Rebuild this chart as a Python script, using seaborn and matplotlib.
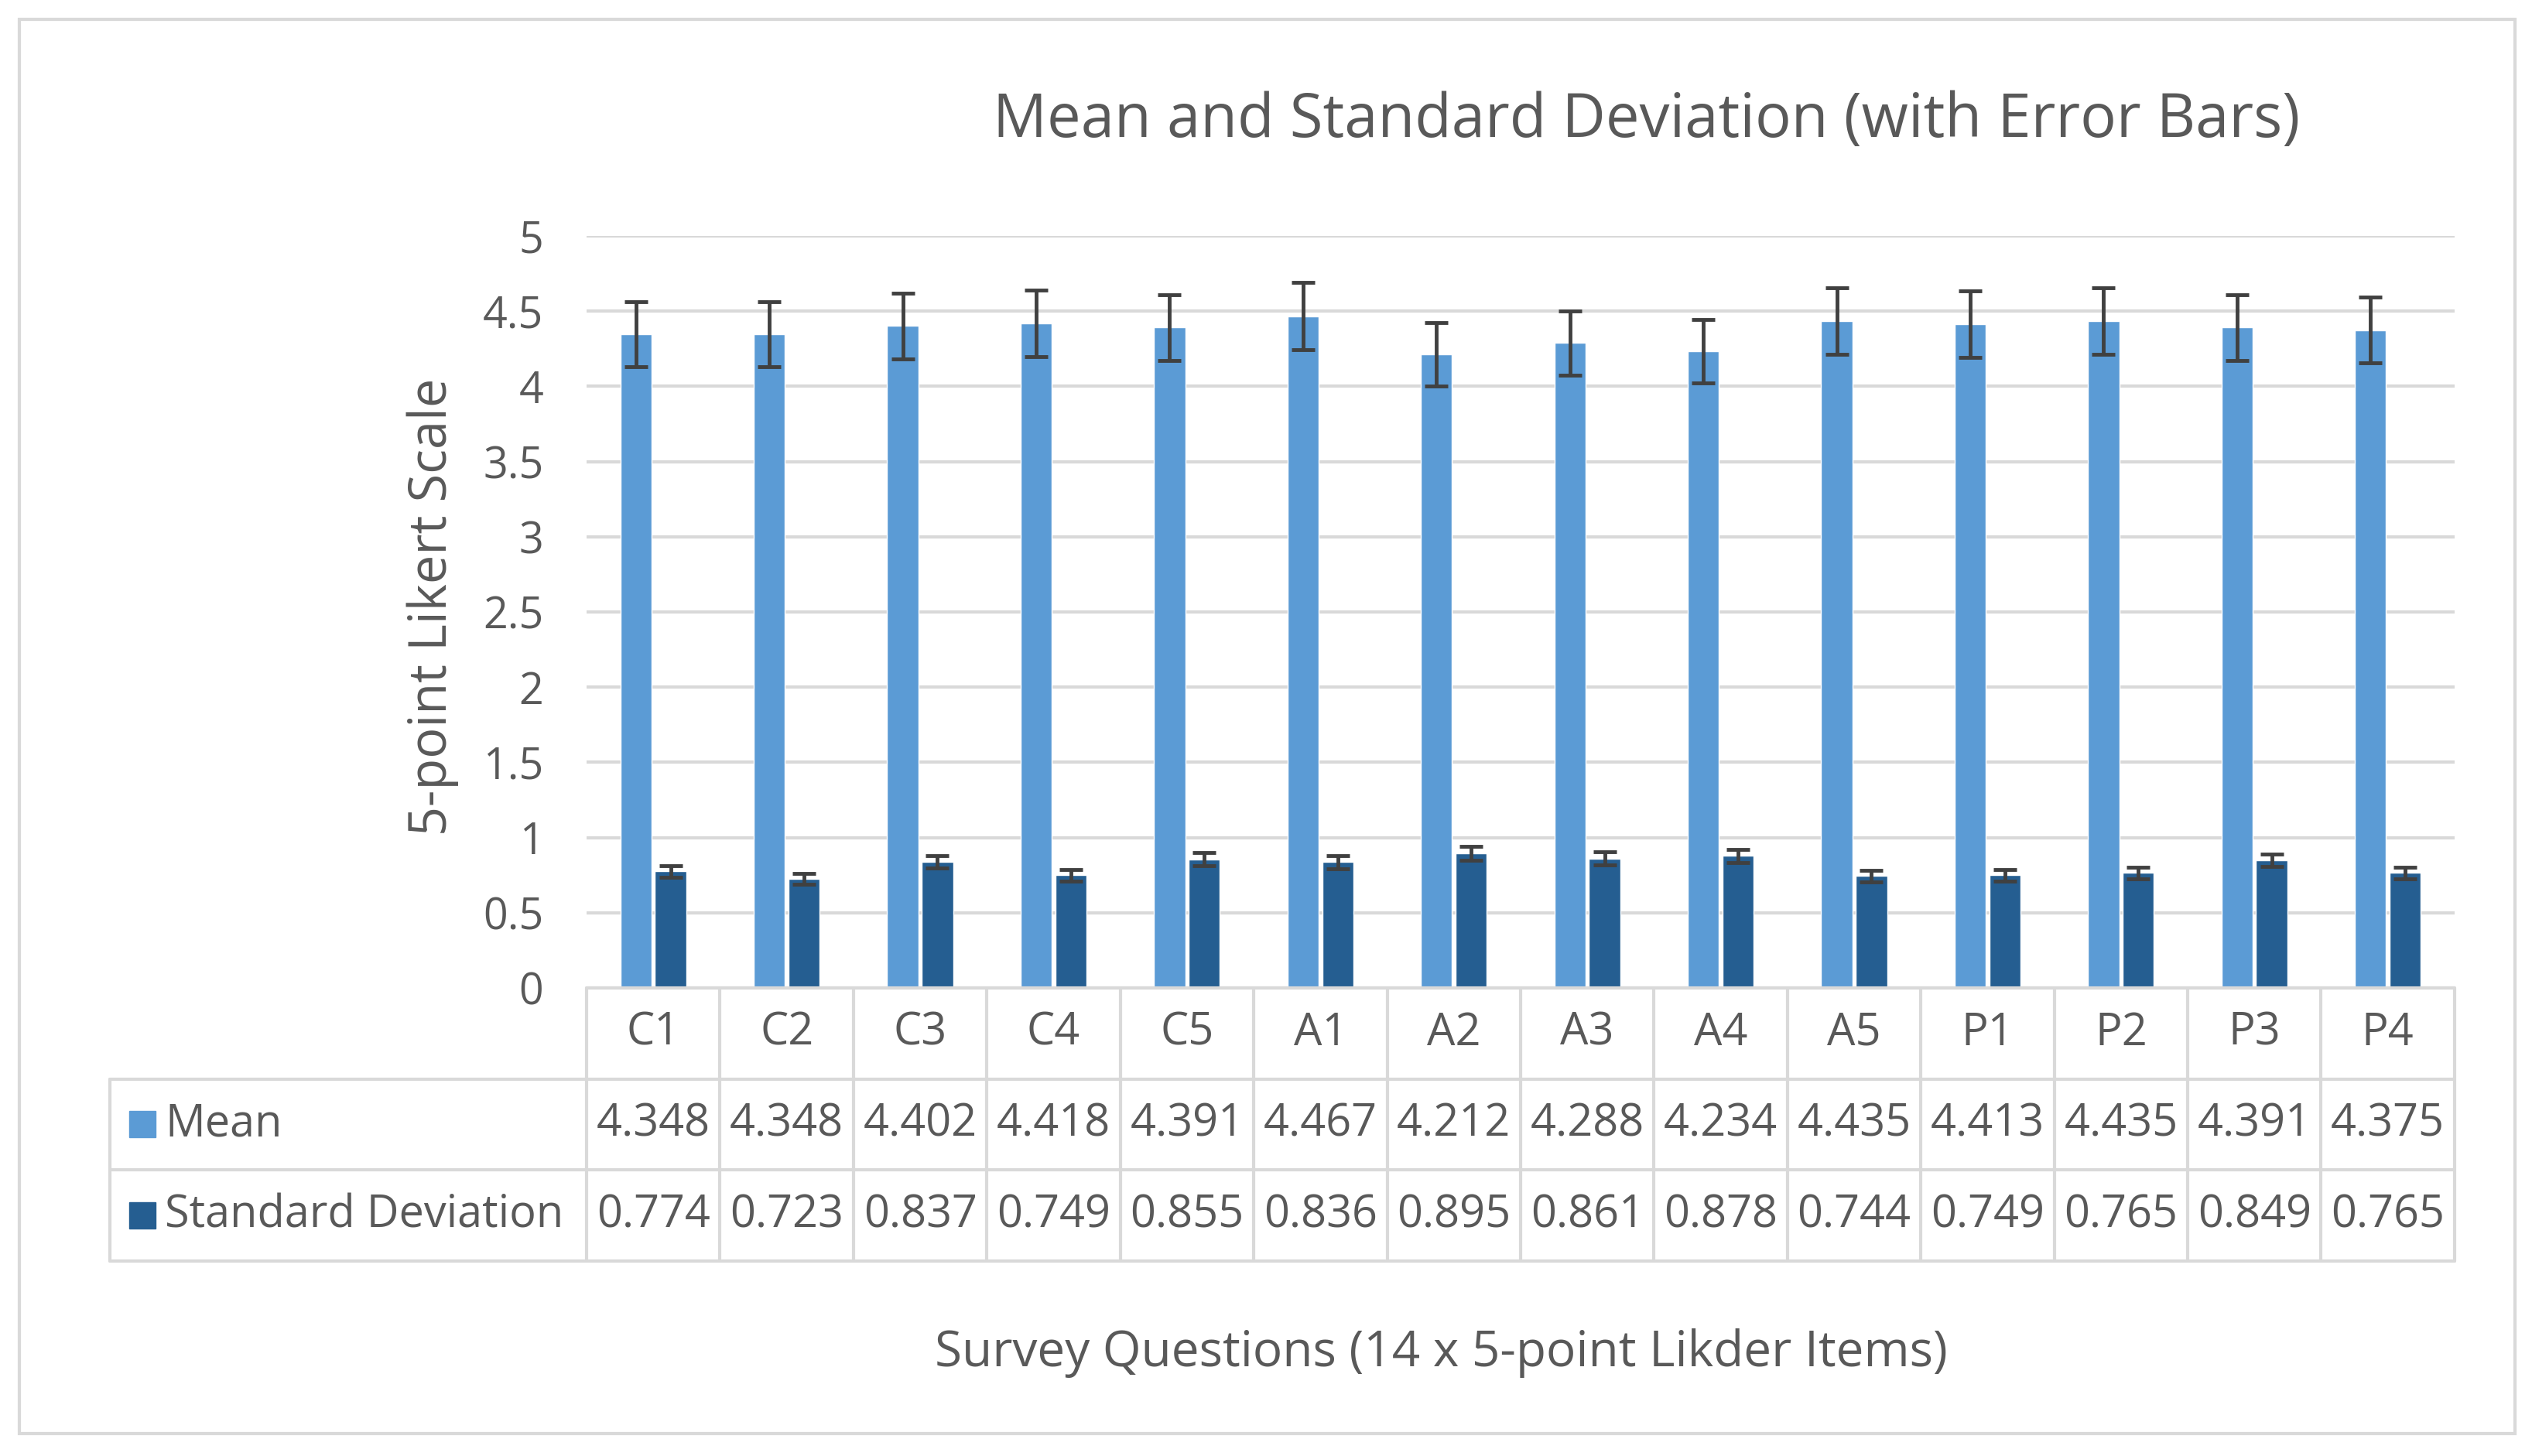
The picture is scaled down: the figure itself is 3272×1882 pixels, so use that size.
#!/usr/bin/env python3
import pandas as pd
import matplotlib.pyplot as plt
import seaborn as sns
from matplotlib.patches import Rectangle

# Survey question labels and the two series shown in the chart
questions = ['C1', 'C2', 'C3', 'C4', 'C5', 'A1', 'A2', 'A3', 'A4', 'A5', 'P1', 'P2', 'P3', 'P4']
means = [4.348, 4.348, 4.402, 4.418, 4.391, 4.467, 4.212, 4.288, 4.234, 4.435, 4.413, 4.435, 4.391, 4.375]
std_devs = [0.774, 0.723, 0.837, 0.749, 0.855, 0.836, 0.895, 0.861, 0.878, 0.744, 0.749, 0.765, 0.849, 0.765]
series_names = ['Mean', 'Standard Deviation']
err_pct = 0.05  # Excel style percentage error bars
y_ticks = [0, 0.5, 1, 1.5, 2, 2.5, 3, 3.5, 4, 4.5, 5]

colors = ['#5B9BD5', '#255E91']
text_color = '#595959'
grid_color = '#D9D9D9'

df = pd.DataFrame({
    'question': questions * 2,
    'series': [series_names[0]] * len(questions) + [series_names[1]] * len(questions),
    'value': means + std_devs,
})

sns.set_style('white')
plt.rcParams['font.family'] = ['Open Sans', 'DejaVu Sans']

fig = plt.figure(figsize=(32.73, 18.82), dpi=100)
ax = fig.add_axes([0.2316, 0.3215, 0.7375, 0.5164])

sns.barplot(data=df, x='question', y='value', hue='series', order=questions,
            hue_order=series_names, palette=colors, width=0.52, gap=0.1,
            errorbar=None, legend=False, ax=ax, saturation=1)

# Error bars (5% of value) on top of each bar
bar_containers = list(ax.containers)
for container in bar_containers:
    xs = [p.get_x() + p.get_width() / 2 for p in container.patches]
    hs = [p.get_height() for p in container.patches]
    ax.errorbar(xs, hs, yerr=[h * err_pct for h in hs], fmt='none',
                ecolor='#404040', elinewidth=3.5, capsize=11, capthick=3.5, zorder=5)

ax.set_ylim(0, 5)
ax.set_xlim(-0.5, len(questions) - 0.5)
ax.set_yticks(y_ticks)
ax.set_yticklabels([f'{t:g}' for t in y_ticks])
ax.yaxis.grid(True, color=grid_color, linewidth=3)
ax.set_axisbelow(True)
for s in ax.spines.values():
    s.set_visible(False)
ax.tick_params(axis='y', length=0, pad=40, labelsize=40, labelcolor=text_color)
ax.set_xticks([])
ax.set_xlabel('')
ax.set_ylabel('')

# Data table below the plot
tr = ax.get_xaxis_transform()
row_h = 0.121
left_x = -4.07
n = len(questions)
tsize = 41.5
line_kw = dict(color=grid_color, linewidth=3, transform=tr, clip_on=False)
ax.plot([-0.5, n - 0.5], [0, 0], **line_kw)
for k in (1, 2, 3):
    ax.plot([left_x, n - 0.5], [-k * row_h, -k * row_h], **line_kw)
for i in range(n + 1):
    ax.plot([i - 0.5, i - 0.5], [0, -3 * row_h], **line_kw)
ax.plot([left_x, left_x], [-row_h, -3 * row_h], **line_kw)

for i, q in enumerate(questions):
    ax.text(i, -0.5 * row_h, q, transform=tr, ha='center', va='center',
            fontsize=tsize, color=text_color)
    ax.text(i, -1.5 * row_h, f'{means[i]:.3f}', transform=tr, ha='center',
            va='center', fontsize=tsize, color=text_color)
    ax.text(i, -2.5 * row_h, f'{std_devs[i]:.3f}', transform=tr, ha='center',
            va='center', fontsize=tsize, color=text_color)

for k, (name, c) in enumerate(zip(series_names, colors)):
    yk = -(1.5 + k) * row_h
    ax.plot([-3.83], [yk], marker='s', markersize=24, color=c, transform=tr,
            clip_on=False, linestyle='none')
    ax.text(-3.66, yk, name, transform=tr, ha='left', va='center',
            fontsize=tsize, color=text_color)

fig.text(0.650, 0.917, 'Mean and Standard Deviation (with Error Bars)',
         ha='center', va='center', fontsize=56, color=text_color)
fig.text(0.569, 0.0706, 'Survey Questions (14 x 5-point Likder Items)',
         ha='center', va='center', fontsize=46, color=text_color)
fig.text(0.171, 0.583, '5-point Likert Scale', rotation=90,
         ha='center', va='center', fontsize=48, color=text_color)

fig.patches.append(Rectangle((0.0076, 0.0154), 0.9853, 0.9713, transform=fig.transFigure,
                             fill=False, edgecolor=grid_color, linewidth=3))

fig.savefig('out.png', dpi=100, facecolor='white')
